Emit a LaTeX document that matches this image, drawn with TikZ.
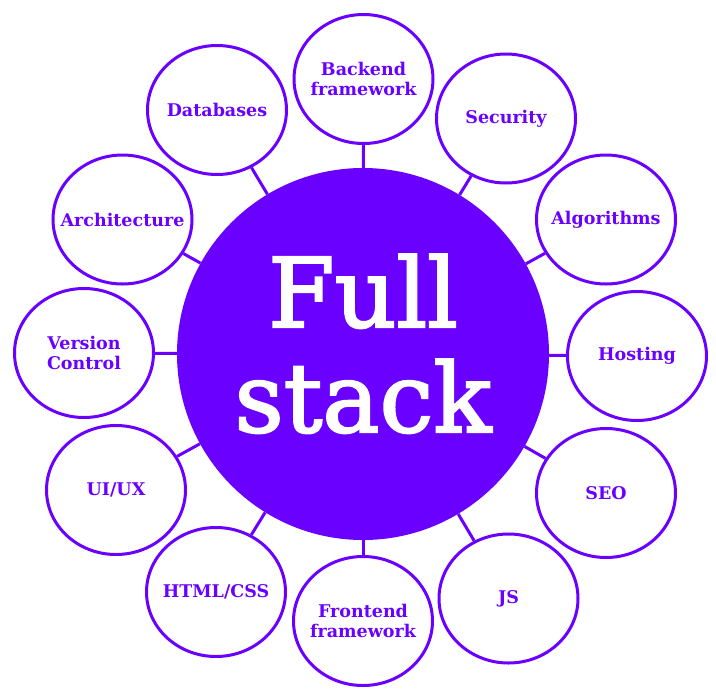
\documentclass[tikz,border=0pt]{standalone}
\usepackage{fontspec}
\setmainfont{DejaVu Serif}
\newfontfamily\hubfont[FakeBold=2.2]{DejaVu Serif}
\usetikzlibrary{shapes.geometric}
\definecolor{purp}{RGB}{106,0,255}
\tikzset{
  topic/.style={ellipse, draw=purp, line width=3pt, fill=white, minimum width=139pt, minimum height=129pt, inner sep=-25pt,
    text=purp, align=center, font=\fontsize{17.5}{19.5}\selectfont\bfseries},
  hub/.style={circle, fill=purp, minimum size=372pt, inner sep=0pt},
  bigtext/.style={text=white, font=\hubfont\fontsize{96}{96}\selectfont, anchor=base, inner sep=0pt},
  link/.style={draw=purp, line width=3pt}
}
\begin{document}
\begin{tikzpicture}[x=1pt,y=-1pt]
\useasboundingbox (0,0) rectangle (716,697);
\node[hub] (c) at (363,354) {};
\node[topic] (be) at (363.5,79) {Backend\\framework};
\node[topic] (se) at (506,118.5) {Security};
\node[topic] (al) at (606,219.5) {Algorithms};
\node[topic] (ho) at (637,356) {Hosting};
\node[topic] (seo) at (606,493) {SEO};
\node[topic] (js) at (508.5,598.5) {JS};
\node[topic] (fe) at (363,621) {Frontend\\framework};
\node[topic] (hc) at (216,592) {HTML/CSS};
\node[topic] (ux) at (116,490) {UI/UX};
\node[topic] (vc) at (84,353) {Version\\Control};
\node[topic] (ar) at (122.5,219.5) {Architecture};
\node[topic] (db) at (217,110) {Databases};
\foreach \n in {be,se,al,ho,seo,js,fe,hc,ux,vc,ar,db}{
  \draw[link] (c) -- (\n);
}
\node[bigtext] (full) at (363,327) {Full};
\node[bigtext] (stack) at (363,432) {stack};
\end{tikzpicture}
\end{document}
